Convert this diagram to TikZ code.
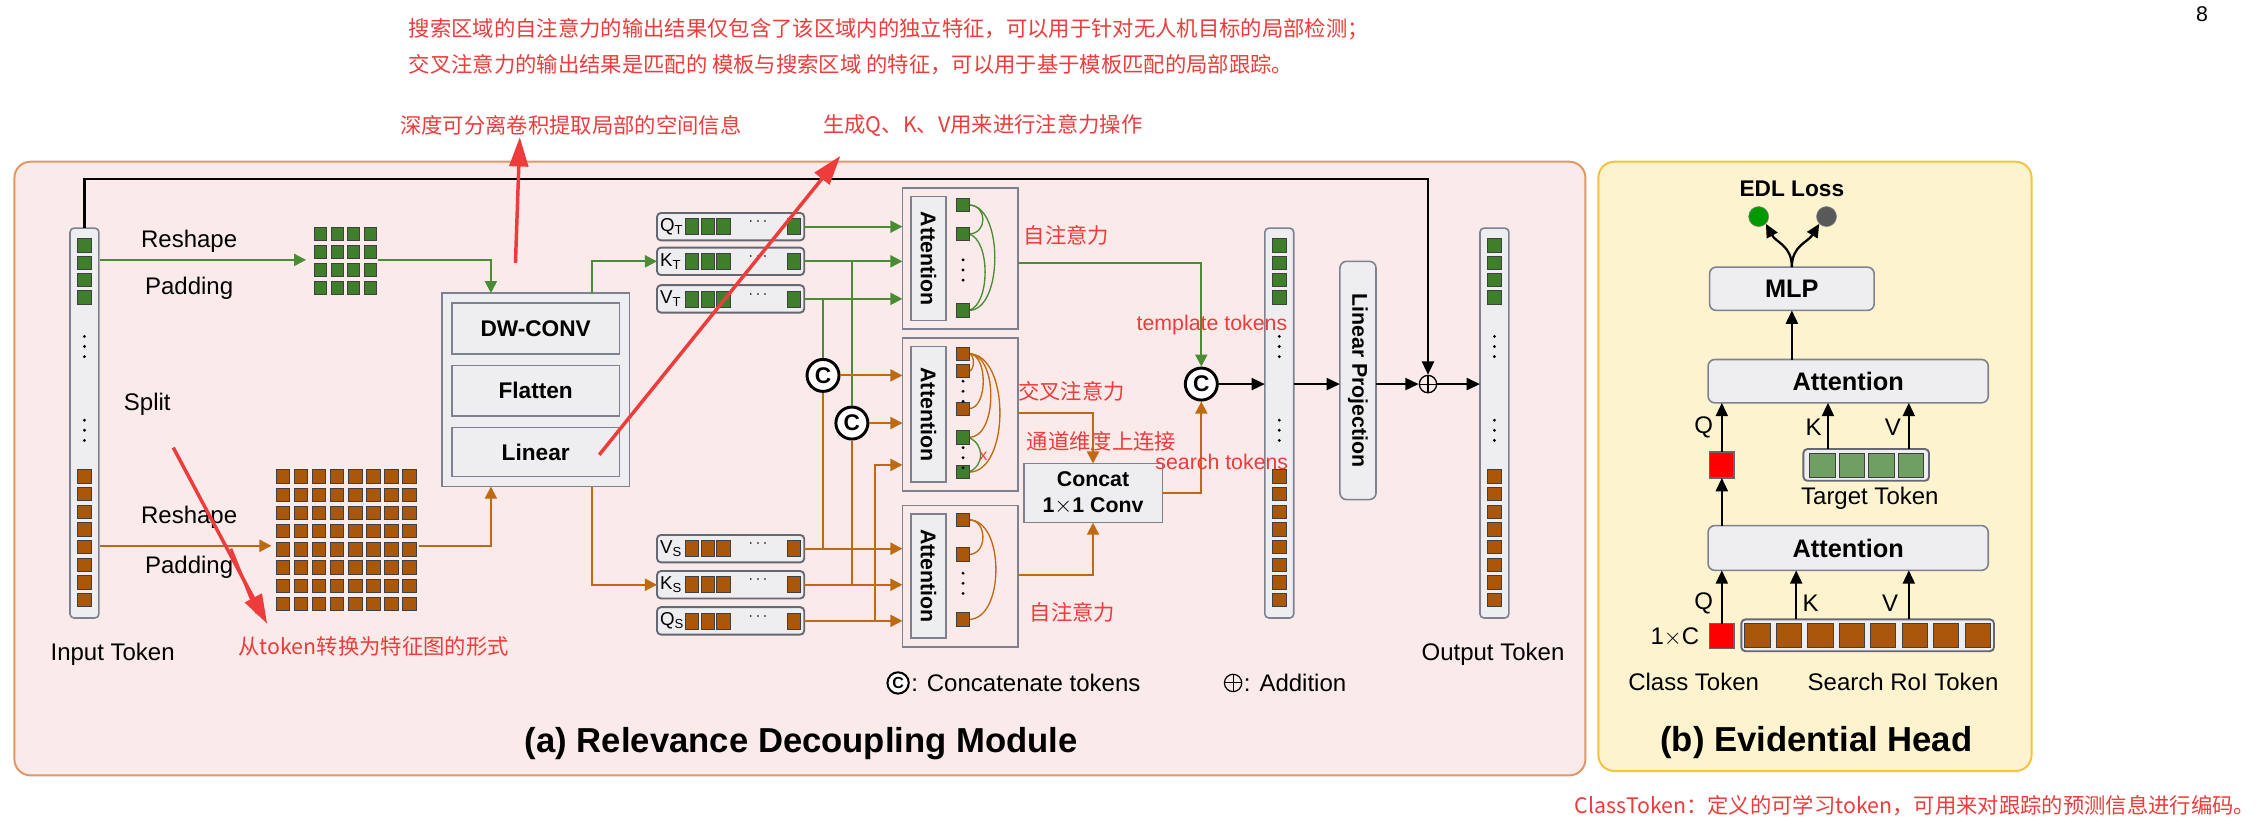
\documentclass[tikz,border=0pt]{standalone}
\usepackage{fontspec}
\setmainfont{Liberation Sans}
\newfontfamily\cjk{Noto Sans CJK SC}
\usetikzlibrary{arrows.meta}
\definecolor{gL}{HTML}{4A8C34}
\definecolor{gT}{HTML}{3F7F2C}
\definecolor{bL}{HTML}{BE6A12}
\definecolor{bT}{HTML}{A9580B}
\definecolor{pinkF}{HTML}{FBEAEA}
\definecolor{pinkB}{HTML}{DE9A66}
\definecolor{yelF}{HTML}{FDF3CF}
\definecolor{yelB}{HTML}{F4C340}
\definecolor{boxF}{HTML}{EEEEF0}
\definecolor{boxB}{HTML}{7E8290}
\definecolor{redT}{HTML}{EE3B3B}
\newcommand\bx[7]{\node[#1,minimum width={((#5)-(#3))*1.083pt},minimum height={((#6)-(#4))*1.083pt},inner sep=0pt,outer sep=0pt] (#2) at ({((#3)+(#5))/2},{((#4)+(#6))/2}) {#7};}
\newcommand\tk[3]{\node[tok,fill=#1] at (#2,#3) {};}
\newcommand\vd[2]{\foreach \d in {0,7,14}{\fill (#1,#2+\d) circle (1.1);}}
\newcommand\tokcol[2]{%
  \bx{colbox}{#1}{#2-10}{158}{#2+10}{428}{}
  \foreach \yy in {170,182,194,206}{\tk{gT}{#2}{\yy}}
  \vd{#2}{233}\vd{#2}{291}
  \foreach \i in {0,...,7}{\tk{bT}{#2}{330+12.2*\i}}}
\newcommand\qkv[4]{% name, y, label, color
  \bx{rowbox}{#1}{455}{#2-9.5}{557}{#2+9.5}{}
  \node[font=\fontsize{14}{14}\selectfont,anchor=west,inner sep=0] at (457,#2) {#3};
  \foreach \xx in {479,490,501}{\node[tok,fill=#4,minimum height=12pt] at (\xx,#2) {};}
  \node[font=\bfseries\fontsize{13}{13}\selectfont] at (525,#2-3) {$\cdots$};
  \node[tok,fill=#4,minimum height=12pt] at (550,#2) {};}
\tikzset{
  gline/.style={draw=gL,line width=1.5pt},
  bline/.style={draw=bL,line width=1.5pt},
  tip/.style={-{Triangle[length=9pt,width=9pt]}},
  garr/.style={gline,tip},
  barr/.style={bline,tip},
  karr/.style={draw=black,line width=1.7pt,-{Triangle[length=10pt,width=9pt]}},
  tok/.style={draw=black!75,line width=0.5pt,minimum width=10pt,minimum height=10pt,inner sep=0pt},
  colbox/.style={draw=boxB,fill=boxF,line width=1.2pt,rounded corners=3pt},
  rowbox/.style={draw=boxB!80!black,fill=boxF,line width=1.4pt,rounded corners=3pt},
  gbox/.style={draw=boxB,fill=boxF,line width=1.2pt},
  rbox/.style={draw=boxB,fill=boxF,line width=1.2pt,rounded corners=5pt},
  att/.style={draw=boxB,line width=1.2pt},
  cc/.style={circle,draw=black,line width=2.2pt,fill=white,minimum size=24pt,inner sep=0pt,font=\bfseries\fontsize{17}{17}\selectfont},
  txt/.style={font=\fontsize{18}{20}\selectfont},
  btxt/.style={font=\bfseries\fontsize{17}{20}\selectfont},
  red/.style={text=redT,font=\cjk\fontsize{16}{18}\selectfont,inner sep=0pt},
  redarr/.style={draw=redT,line width=2.6pt,-{Triangle[length=22pt,width=14pt]}},
}
\begin{document}
\begin{tikzpicture}[x=1.083pt,y=-1.083pt]
\useasboundingbox (0,0) rectangle (1568,580.3);
\fill[white] (0,0) rectangle (1568,580.3);
% panels
\bx{draw=pinkB,fill=pinkF,line width=1.5pt,rounded corners=12pt}{pa}{10}{112}{1098}{537}{}
\bx{draw=yelB,fill=yelF,line width=1.5pt,rounded corners=12pt}{pb}{1107}{112}{1407}{534}{}
% red top notes
\node[red,anchor=west] (n1) at (283,20) {搜索区域的自注意力的输出结果仅包含了该区域内的独立特征，可以用于针对无人机目标的局部检测；};
\node[red,anchor=west] (n2) at (283,45) {交叉注意力的输出结果是匹配的 模板与搜索区域 的特征，可以用于基于模板匹配的局部跟踪。};
\node[font=\rmfamily\fontsize{16}{16}\selectfont] (pg) at (1525,10) {8};
\node[red,anchor=west] (n3) at (277,87) {深度可分离卷积提取局部的空间信息};
\node[red,anchor=west] (n4) at (570,87) {生成Q、K、V用来进行注意力操作};
\node[red,anchor=east] (n5) at (1562,558) {ClassToken：定义的可学习token，可用来对跟踪的预测信息进行编码。};
% columns
\tokcol{incol}{58.5}
\tokcol{midcol}{886}
\tokcol{outcol}{1035}
\node[txt] (lin) at (78,453) {Input Token};
\node[txt] (lout) at (1034,453) {Output Token};
\node[txt] at (131,167) {Reshape};
\node[txt] at (131,200) {Padding};
\node[txt] at (102,280) {Split};
\node[txt] at (131,358) {Reshape};
\node[txt] at (131,393) {Padding};
% green grid
\foreach \i in {0,...,3}\foreach \j in {0,...,3}{\node[tok,fill=gT,minimum width=9pt,minimum height=10pt] at (222+11.5*\i,162+12.5*\j) {};}
\coordinate (gg) at (262,180);
% brown grid
\foreach \i in {0,...,7}\foreach \j in {0,...,7}{\node[tok,fill=bT,minimum width=10pt,minimum height=10pt] at (196+12.5*\i,330+12.6*\j) {};}
\coordinate (bg) at (290,378);
% main box
\bx{gbox}{big}{306}{203}{436}{337}{}
\bx{gbox,btxt}{dw}{313}{210}{429}{245}{DW-CONV}
\bx{gbox,btxt}{fl}{313}{253}{429}{288}{Flatten}
\bx{gbox,btxt}{li}{313}{296}{429}{330}{Linear}
\draw[garr] (69,180) -- (212,180);
\draw[gline,tip] (gg) -| (340,203);
\draw[barr] (69,378) -- (188,378);
\draw[bline,tip] (bg) -| (340,337);
% qkv rows
\qkv{qt}{157}{Q\textsubscript{T}}{gT}
\qkv{kt}{181}{K\textsubscript{T}}{gT}
\qkv{vt}{207}{V\textsubscript{T}}{gT}
\qkv{vs}{380}{V\textsubscript{S}}{bT}
\qkv{ks}{405}{K\textsubscript{S}}{bT}
\qkv{qs}{430}{Q\textsubscript{S}}{bT}
\draw[garr] (410,203) |- (kt.west);
\draw[barr] (410,337) |- (ks.west);
% attention boxes
\bx{att}{a1}{625}{130}{705}{228}{}
\bx{gbox}{a1l}{631}{136}{655}{222}{}
\node[btxt,rotate=-90,font=\bfseries\fontsize{16}{16}\selectfont] at (a1l) {Attention};
\bx{att}{a2}{625}{234}{705}{340}{}
\bx{gbox}{a2l}{631}{240}{655}{334}{}
\node[btxt,rotate=-90,font=\bfseries\fontsize{16}{16}\selectfont] at (a2l) {Attention};
\bx{att}{a3}{625}{350}{705}{448}{}
\bx{gbox}{a3l}{631}{356}{655}{442}{}
\node[btxt,rotate=-90,font=\bfseries\fontsize{16}{16}\selectfont] at (a3l) {Attention};
% att1 tokens
\draw[gL,line width=1pt] (671,142) .. controls (684,142) and (684,162) .. (671,162);
\draw[gL,line width=1pt] (671,142) .. controls (695,142) and (695,215) .. (671,215);
\draw[gL,line width=1pt] (671,162) .. controls (686,166) and (686,211) .. (671,215);
\tk{gT}{667}{142}\tk{gT}{667}{162}\tk{gT}{667}{215}\vd{667}{180}
% att2 tokens
\foreach \yy in {257,283,303,327}{\draw[bL,line width=1pt] (671,245) .. controls ({671+(\yy-245)*0.35},245) and ({671+(\yy-245)*0.35},\yy) .. (671,\yy);}
\draw[gL,line width=1pt] (671,303) .. controls (682,308) and (682,322) .. (671,327);
\node[text=redT,font=\fontsize{12}{12}\selectfont] at (681,316) {x};
\tk{bT}{667}{245}\tk{bT}{667}{257}\tk{bT}{667}{283}\tk{gT}{667}{303}\tk{gT}{667}{327}
\vd{667}{264}\vd{667}{310}
% att3 tokens
\draw[bL,line width=1pt] (671,360) .. controls (684,360) and (684,384) .. (671,384);
\draw[bL,line width=1pt] (671,360) .. controls (696,360) and (696,429) .. (671,429);
\tk{bT}{667}{360}\tk{bT}{667}{384}\tk{bT}{667}{429}\vd{667}{397}
% concat circles
\node[cc] (c1) at (570,260) {C};
\node[cc] (c2) at (590,293) {C};
\draw[gline] (557,207) -| (c1.north);
\draw[gline] (557,181) -| (c2.north);
\draw[bline] (c1.south) -- (570,380);
\draw[bline] (c2.south) -- (590,405);
\draw[barr] (c1.east) -- (625,260);
\draw[barr] (c2.east) -- (625,293);
\draw[garr] (qt.east) -- (625,157);
\draw[garr] (kt.east) -- (625,181);
\draw[garr] (vt.east) -- (625,207);
\draw[barr] (vs.east) -- (625,380);
\draw[barr] (ks.east) -- (625,405);
\draw[barr] (qs.east) -- (625,430);
\draw[barr] (606,430) |- (625,322);
% red labels
\node[red,anchor=west] at (709,163) {自注意力};
\node[red,anchor=west] at (705,271) {交叉注意力};
\node[red,anchor=west] at (711,306) {通道维度上连接};
\node[red,anchor=west] at (713,424) {自注意力};
% concat box
\bx{gbox,align=center,font=\bfseries\fontsize{16}{20}\selectfont}{cat}{709}{321}{805}{362}{Concat\\1$\times$1 Conv}
\node[cc] (c3) at (832,266) {C};
\draw[garr] (705,182) -| (c3.north);
\draw[barr] (705,286) -| (cat.north);
\draw[barr] (705,398) -| (cat.south);
\draw[barr] (cat.east) -| (c3.south);
\node[red,anchor=west,font=\fontsize{16}{18}\selectfont] at (787,225) {template tokens};
\node[red,anchor=west,font=\fontsize{16}{18}\selectfont] at (800,320) {search tokens};
\draw[karr] (c3.east) -- (midcol.west |- c3);
\bx{rbox}{lp}{928}{181}{953}{346}{}
\node[rotate=-90,font=\bfseries\fontsize{16}{16}\selectfont] at (lp) {Linear Projection};
\draw[karr] (midcol.east |- c3) -- (lp.west |- c3);
\node[circle,draw=black,line width=1pt,minimum size=13pt,inner sep=0] (plus) at (989,266) {};
\draw[line width=0.8pt] (plus.north) -- (plus.south) (plus.west) -- (plus.east);
\draw[karr] (lp.east |- plus) -- (plus.west);
\draw[karr] (plus.east) -- (outcol.west |- plus);
\draw[karr] (incol.north) -- (58.5,124) -| (plus.north);
% legend
\node[cc,minimum size=16pt,line width=1.5pt,font=\bfseries\fontsize{12}{12}\selectfont] (lc) at (622,473) {C};
\node[txt,anchor=west,inner sep=1pt] (lct) at (lc.east) {: Concatenate tokens};
\node[circle,draw=black,line width=0.9pt,minimum size=13pt,inner sep=0] (lp2) at (854,473) {};
\draw[line width=0.8pt] (lp2.north) -- (lp2.south) (lp2.west) -- (lp2.east);
\node[txt,anchor=west,inner sep=1pt] at (lp2.east) {: Addition};
\node[font=\bfseries\fontsize{26}{30}\selectfont] (ta) at (555,515) {(a) Relevance Decoupling Module};
% red arrows
\node[red,anchor=west] (n6) at (165,448) {从token转换为特征图的形式};
\draw[redarr] (415,315) -- (582,108);
\draw[redarr] (357,182) -- (360,95);
\draw[redarr] (120,310) -- (185,432);
\draw[draw=redT,line width=2pt] (160,380) -- (178,425);
% panel b
\node[font=\bfseries\fontsize{17}{20}\selectfont] (edl) at (1241,131) {EDL Loss};
\node[circle,fill=green!60!black,draw=gray,minimum size=15pt,inner sep=0] (d1) at (1218,150) {};
\node[circle,fill=black!65,draw=gray,minimum size=15pt,inner sep=0] (d2) at (1265,150) {};
\bx{rbox,font=\bfseries\fontsize{19}{20}\selectfont}{mlp}{1184}{185}{1298}{215}{MLP}
\draw[karr] (mlp.north) .. controls (1241,170) and (1230,168) .. (d1.south east);
\draw[karr] (mlp.north) .. controls (1241,170) and (1252,168) .. (d2.south west);
\bx{rbox,font=\bfseries\fontsize{19}{20}\selectfont}{at1}{1183}{249}{1377}{279}{Attention}
\bx{rbox,font=\bfseries\fontsize{19}{20}\selectfont}{at2}{1183}{364}{1377}{395}{Attention}
\draw[karr] (at1.north -| mlp) -- (mlp.south);
\bx{draw=black!60,fill=red,line width=1pt}{cls1}{1184}{313}{1201}{331}{}
\bx{draw=black!60,fill=red,line width=1pt}{cls2}{1184}{432}{1201}{449}{}
\bx{rowbox}{tgt}{1249}{311}{1336}{333}{}
\foreach \i in {0,...,3}{\node[tok,fill=gT!75!white,minimum width=19pt,minimum height=18pt] at (1262+20.5*\i,322) {};}
\bx{rowbox}{srch}{1206}{429}{1381}{451}{}
\foreach \i in {0,...,7}{\node[tok,fill=bT,minimum width=19pt,minimum height=18pt] at (1217+21.8*\i,440) {};}
\draw[karr] (cls1.north) -- (cls1.north |- at1.south);
\draw[karr] (1266,311) -- (1266,279);
\draw[karr] (1322,311) -- (1322,279);
\draw[karr] (at2.north -| cls1) -- (cls1.south);
\draw[karr] (cls2.north) -- (cls2.north |- at2.south);
\draw[karr] (1244,429) -- (1244,395);
\draw[karr] (1322,429) -- (1322,395);
\node[txt] at (1180,296) {Q};
\node[txt] at (1256,296) {K};
\node[txt] at (1311,296) {V};
\node[txt] at (1180,418) {Q};
\node[txt] at (1254,418) {K};
\node[txt] at (1309,418) {V};
\node[txt] at (1160,441) {1$\times$C};
\node[txt] at (1295,345) {Target Token};
\node[txt] at (1173,472) {Class Token};
\node[txt] at (1318,472) {Search RoI Token};
\node[font=\bfseries\fontsize{26}{30}\selectfont] (tb) at (1258,514) {(b) Evidential Head};
\end{tikzpicture}
\end{document}
